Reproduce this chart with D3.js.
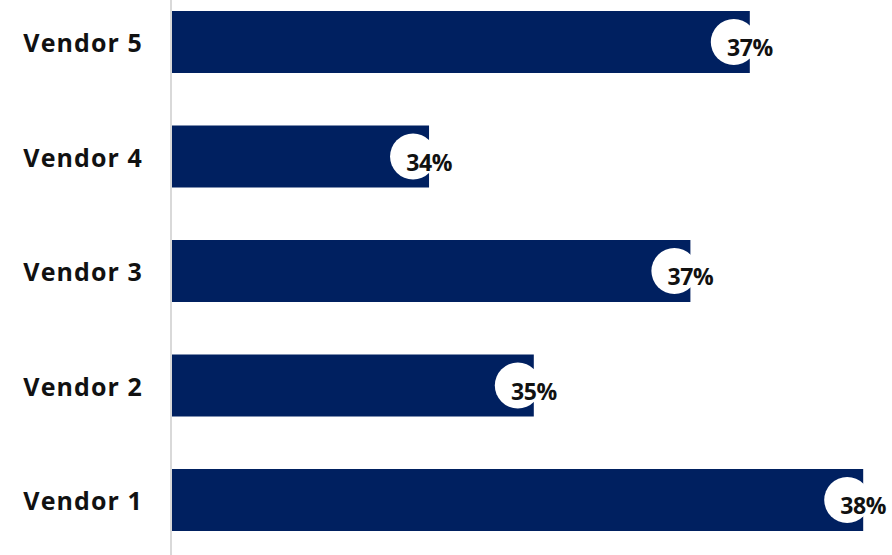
<!DOCTYPE html>
<html>
<head>
<meta charset="utf-8">
<script src="https://cdn.jsdelivr.net/npm/d3@7"></script>
<style>
  html, body { margin: 0; padding: 0; background: #ffffff; }
  svg { display: block; }
</style>
</head>
<body>
<svg id="chart" width="892" height="555"></svg>
<script>
// Share of respondents per vendor (percent)
const vendors = ["Vendor 5", "Vendor 4", "Vendor 3", "Vendor 2", "Vendor 1"];
const shares = [37.35, 34.38, 36.8, 35.35, 38.4];
const shareLabels = ["37%", "34%", "37%", "35%", "38%"];

const width = 892, height = 555;
const axisX = 172;

const svg = d3.select("#chart");

const x = d3.scaleLinear().domain([32, 38.5]).range([axisX, 874]);
const y = d3.scaleBand()
  .domain(vendors)
  .range([-15.25, 557.25])
  .paddingInner(0.4585)
  .paddingOuter(0.4585 / 2);

const rows = vendors.map((v, i) => ({ vendor: v, value: shares[i], label: shareLabels[i] }));

// bars
svg.append("g")
  .selectAll("rect")
  .data(rows)
  .join("rect")
  .attr("x", x(32))
  .attr("y", d => y(d.vendor))
  .attr("width", d => x(d.value) - x(32))
  .attr("height", y.bandwidth())
  .attr("fill", "#002060");

// category axis line
svg.append("line")
  .attr("x1", axisX - 1).attr("x2", axisX - 1)
  .attr("y1", 0).attr("y2", height)
  .attr("stroke", "#d9d9d9")
  .attr("stroke-width", 2);

// category labels
svg.append("g")
  .selectAll("text")
  .data(rows)
  .join("text")
  .attr("x", 143)
  .attr("y", d => y(d.vendor) + y.bandwidth() / 2)
  .attr("dy", "0.4em")
  .attr("text-anchor", "end")
  .attr("font-family", "'Open Sans', Lato, sans-serif")
  .attr("font-weight", "bold")
  .attr("font-size", 25)
  .attr("letter-spacing", 1.1)
  .attr("fill", "#111")
  .text(d => d.vendor);

// value badges
const badges = svg.append("g")
  .selectAll("g")
  .data(rows)
  .join("g")
  .attr("transform", d => `translate(${x(d.value)},${y(d.vendor) + y.bandwidth() / 2})`);

badges.append("circle")
  .attr("cx", -16)
  .attr("cy", 0)
  .attr("r", 23)
  .attr("fill", "#ffffff");

badges.append("text")
  .attr("x", 0)
  .attr("y", 6)
  .attr("dy", "0.36em")
  .attr("text-anchor", "middle")
  .attr("font-family", "'Open Sans', Lato, sans-serif")
  .attr("font-weight", "bold")
  .attr("font-size", 23)
  .attr("letter-spacing", -0.4)
  .attr("fill", "#111")
  .text(d => d.label);
</script>
</body>
</html>
